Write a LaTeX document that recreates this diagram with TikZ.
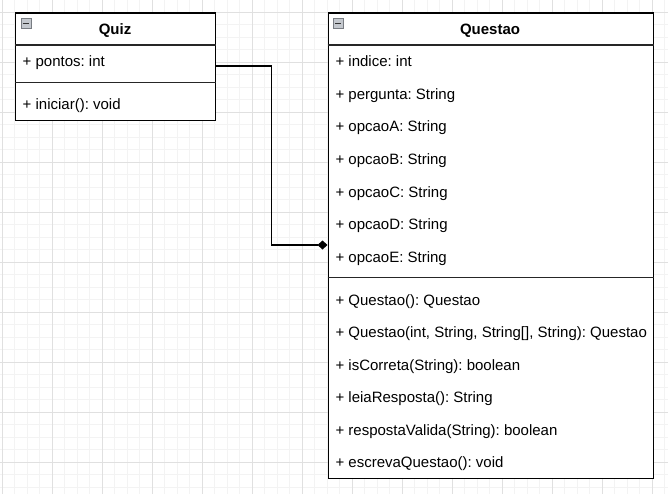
\documentclass[tikz,border=0pt]{standalone}
\usepackage{fontspec}
\setmainfont{Liberation Sans}
\usetikzlibrary{arrows.meta,positioning}
\frenchspacing
\definecolor{gridminor}{RGB}{243,243,243}
\definecolor{gridmajor}{RGB}{224,224,224}
\definecolor{iconfill}{RGB}{196,200,206}
\definecolor{iconline}{RGB}{120,124,130}
\tikzset{
	classbox/.style={draw=black, line width=1.25pt, fill=white, inner sep=0pt, anchor=north west},
	divider/.style={line width=1.25pt, draw=black!85},
	member/.style={anchor=base west, inner sep=0pt, font=\fontsize{15}{18}\selectfont},
	classname/.style={anchor=base, inner sep=0pt, font=\fontsize{15}{18}\selectfont\bfseries},
	foldicon/.style={draw=iconline, fill=iconfill, line width=0.8pt, inner sep=0pt, minimum size=10pt, anchor=north west},
	composition/.style={line width=1.25pt, -{Diamond[fill=black, length=10pt, width=9pt]}},
}
\begin{document}
\begin{tikzpicture}[x=1pt, y=-1pt]
		%%%%% START %%%%%
		\useasboundingbox (0,0) rectangle (668,494);
		\fill[white] (0,0) rectangle (668,494);
		
		% background grid
		\foreach \x in {2.3,14.8,...,668} \draw[gridminor, line width=1pt] (\x,0) -- (\x,494);
		\foreach \y in {-0.2,12.3,...,494} \draw[gridminor, line width=1pt] (0,\y) -- (668,\y);
		\foreach \x in {2.3,52.3,...,668} \draw[gridmajor, line width=1pt] (\x,0) -- (\x,494);
		\foreach \y in {12.3,62.3,...,494} \draw[gridmajor, line width=1pt] (0,\y) -- (668,\y);
		
		% class Quiz
		\node[classbox, minimum width=200pt, minimum height=107.5pt] (quiz) at (15,12.5) {};
		\node[foldicon] (quizicon) at (20.7,18.3) {};
		\draw[black!80, line width=1.2pt] (22.6,23.3) -- (28.8,23.3);
		\node[classname] (quizname) at (115,35) {Quiz};
		\draw[divider] (quiz.west |- 0,45) -- (quiz.east |- 0,45);
		\node[member] (pontos) at (22.5,67) {+ pontos: int};
		\draw[divider] (quiz.west |- 0,82.5) -- (quiz.east |- 0,82.5);
		\node[member] (iniciar) at (22.5,110) {+ iniciar(): void};
		
		% class Questao
		\node[classbox, minimum width=325pt, minimum height=465pt] (questao) at (327.5,12.5) {};
		\node[foldicon] (questaoicon) at (333.3,18.3) {};
		\draw[black!80, line width=1.2pt] (335.2,23.3) -- (341.4,23.3);
		\node[classname] (questaoname) at (490,35) {Questao};
		\draw[divider] (questao.west |- 0,45) -- (questao.east |- 0,45);
		
		\node[member] (indice) at (335.3,67) {+ indice: int};
		\node[member] (pergunta) at (335.3,99.5) {+ pergunta: String};
		\node[member] (opcaoA) at (335.3,132) {+ opcaoA: String};
		\node[member] (opcaoB) at (335.3,164.5) {+ opcaoB: String};
		\node[member] (opcaoC) at (335.3,197) {+ opcaoC: String};
		\node[member] (opcaoD) at (335.3,229.5) {+ opcaoD: String};
		\node[member] (opcaoE) at (335.3,262) {+ opcaoE: String};
		
		\draw[divider] (questao.west |- 0,277.5) -- (questao.east |- 0,277.5);
		
		\node[member] (ctorvazio) at (335.3,305) {+ Questao(): Questao};
		\node[member] (ctorcompleto) at (335.3,337.5) {+ Questao(int, String, String[], String): Questao};
		\node[member] (iscorreta) at (335.3,370) {+ isCorreta(String): boolean};
		\node[member] (leiaresposta) at (335.3,402.5) {+ leiaResposta(): String};
		\node[member] (respostavalida) at (335.3,435) {+ respostaValida(String): boolean};
		\node[member] (escrevaquestao) at (335.3,467.5) {+ escrevaQuestao(): void};
		
		% composition Quiz -> Questao
		\coordinate (jointop) at (271.7,66);
		\coordinate (joinbot) at (271.7,245);
		\draw[composition] (quiz.east |- jointop) -- (jointop) -- (joinbot) -- (questao.west |- joinbot);
		
		%%%%% END %%%%%
	\end{tikzpicture}
\end{document}
